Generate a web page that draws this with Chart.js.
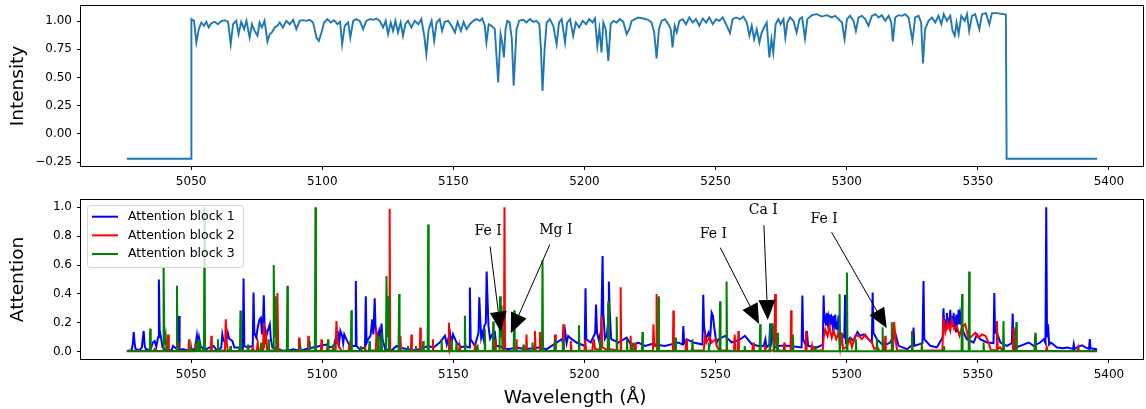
<!DOCTYPE html>
<html>
<head>
<meta charset="utf-8">
<script src="https://cdn.jsdelivr.net/npm/chart.js@4.4.0/dist/chart.umd.min.js"></script>
<style>
  html, body { margin: 0; padding: 0; background: #fff; }
  #wrap { position: relative; width: 1146px; height: 409px; }
  canvas { position: absolute; left: 0; }
  #top { top: 0; }
  #bottom { top: 190px; }
</style>
</head>
<body>
<div id="wrap">
  <canvas id="top" width="1146" height="190"></canvas>
  <canvas id="bottom" width="1146" height="219"></canvas>
</div>
<script>
// tick labels
const xTicks = [5050, 5100, 5150, 5200, 5250, 5300, 5350, 5400];
const yTicksTop = [-0.25, 0, 0.25, 0.5, 0.75, 1.0];
const yTicksBottom = [0, 0.2, 0.4, 0.6, 0.8, 1.0];

// normalised spectrum [wavelength, intensity]
const spectrum = [
  [5025.5,-0.22],[5050.0,-0.22],[5050.1,1.018],[5051.1,1.003],[5052.0,0.811],[5052.9,0.929],[5053.9,0.988],
  [5054.9,0.959],[5055.8,0.994],[5056.7,0.944],[5057.7,0.982],[5059.0,0.994],[5060.2,0.973],[5061.5,1.000],
  [5062.8,1.009],[5064.1,0.994],[5065.1,0.796],[5066.0,0.973],[5067.2,1.003],[5068.1,0.885],[5069.1,0.994],
  [5070.2,0.929],[5071.1,1.003],[5072.3,0.855],[5073.2,0.973],[5074.2,0.914],[5075.3,0.870],[5076.1,0.988],
  [5077.0,0.944],[5078.0,1.003],[5079.1,0.820],[5080.0,0.885],[5080.8,0.900],[5081.9,0.944],[5082.9,0.959],
  [5083.8,0.988],[5085.0,0.944],[5086.3,1.003],[5087.6,0.973],[5088.9,1.012],[5090.1,0.929],[5091.4,1.003],
  [5092.7,1.009],[5093.9,1.003],[5095.2,1.012],[5096.5,0.988],[5097.8,0.855],[5098.7,0.826],[5099.7,0.900],
  [5100.7,0.988],[5102.0,1.018],[5103.2,0.988],[5104.5,1.009],[5105.8,0.973],[5106.8,0.994],[5107.6,0.796],
  [5108.6,0.959],[5109.9,0.988],[5110.7,0.855],[5111.8,1.003],[5113.0,1.018],[5114.3,1.003],[5115.6,0.929],
  [5116.8,1.003],[5118.1,1.018],[5119.4,1.012],[5120.7,1.024],[5121.9,1.003],[5123.2,0.944],[5124.2,1.003],
  [5125.1,0.885],[5126.1,0.988],[5127.0,0.914],[5127.9,1.003],[5128.9,0.900],[5129.9,0.988],[5130.8,0.870],
  [5131.7,0.973],[5132.7,1.003],[5134.0,0.944],[5135.3,1.003],[5136.6,0.973],[5137.8,1.018],[5138.9,0.870],
  [5139.7,0.707],[5140.6,0.929],[5141.7,1.003],[5142.7,0.826],[5143.6,0.988],[5144.8,1.018],[5145.7,0.914],
  [5146.7,0.994],[5148.0,1.003],[5149.3,0.959],[5150.6,0.900],[5151.6,0.994],[5152.9,0.914],[5153.9,0.994],
  [5155.0,0.929],[5156.3,0.973],[5157.6,1.003],[5158.8,1.018],[5160.1,1.003],[5161.0,1.024],[5162.0,0.959],
  [5162.6,0.811],[5163.5,0.973],[5164.5,0.959],[5165.8,0.929],[5167.1,0.456],[5168.0,0.885],[5168.6,0.811],
  [5169.3,0.678],[5169.9,0.929],[5170.6,1.003],[5171.5,0.988],[5172.3,0.840],[5173.0,0.427],[5174.1,0.929],
  [5175.1,1.003],[5176.7,1.012],[5177.9,0.988],[5179.2,1.018],[5180.5,0.994],[5181.7,1.003],[5182.8,0.973],
  [5183.4,0.752],[5184.0,0.382],[5184.8,0.752],[5185.6,0.988],[5186.8,1.018],[5188.1,0.959],[5189.4,0.796],
  [5190.3,0.988],[5191.3,1.018],[5192.6,0.811],[5193.4,0.988],[5194.5,1.018],[5195.7,0.870],[5196.7,0.988],
  [5198.0,0.944],[5199.3,1.003],[5200.6,0.973],[5201.8,1.018],[5203.1,0.988],[5204.0,1.024],[5204.9,0.781],
  [5205.7,0.929],[5206.5,0.722],[5207.2,0.988],[5208.1,0.929],[5209.1,0.648],[5210.0,0.973],[5211.0,1.003],
  [5212.3,0.988],[5213.5,1.018],[5214.8,0.994],[5216.1,0.885],[5217.1,0.929],[5218.0,1.003],[5219.3,1.018],
  [5220.5,1.033],[5222.4,1.024],[5224.3,1.012],[5225.6,0.988],[5226.6,0.900],[5227.5,0.669],[5228.4,0.929],
  [5229.4,1.003],[5230.7,1.018],[5232.0,0.973],[5232.9,0.929],[5233.6,0.767],[5234.4,0.959],[5235.2,0.900],
  [5236.2,1.003],[5237.5,1.018],[5238.7,0.973],[5240.0,1.033],[5241.3,0.988],[5242.5,1.018],[5243.8,0.959],
  [5245.1,1.024],[5246.4,0.988],[5247.6,1.033],[5248.9,0.973],[5250.2,1.018],[5251.4,1.003],[5252.7,1.033],
  [5254.0,0.973],[5255.5,0.894],[5256.5,1.018],[5257.8,1.033],[5259.3,1.018],[5260.6,1.041],[5261.9,0.988],
  [5262.9,0.870],[5263.8,0.959],[5264.7,0.840],[5265.7,0.929],[5266.7,0.811],[5267.6,0.900],[5268.5,0.944],
  [5269.5,0.988],[5270.5,0.678],[5271.3,0.840],[5272.0,0.722],[5272.9,0.973],[5273.9,1.018],[5274.8,0.973],
  [5275.9,1.018],[5276.6,0.855],[5277.4,0.988],[5278.4,1.033],[5279.7,1.003],[5280.9,0.900],[5282.0,1.018],
  [5283.0,1.033],[5284.1,0.846],[5285.0,1.018],[5286.7,1.053],[5288.6,1.062],[5290.5,1.041],[5292.4,1.053],
  [5294.3,1.033],[5295.6,1.047],[5296.9,1.018],[5298.2,0.988],[5299.2,0.840],[5300.1,1.018],[5301.3,1.047],
  [5302.6,1.003],[5303.5,0.914],[5304.5,1.033],[5305.8,1.047],[5307.1,1.018],[5308.3,0.959],[5309.6,1.047],
  [5310.9,1.062],[5312.2,1.033],[5313.4,1.053],[5314.7,1.003],[5316.0,1.047],[5317.0,0.988],[5317.6,0.820],
  [5318.5,1.033],[5319.8,1.053],[5321.1,1.047],[5322.3,1.062],[5323.6,1.033],[5325.1,0.826],[5326.1,1.033],
  [5327.4,1.047],[5328.4,0.988],[5329.1,0.625],[5329.9,0.929],[5331.2,1.003],[5332.5,1.033],[5333.8,0.988],
  [5335.0,1.047],[5336.1,0.973],[5337.0,1.062],[5338.2,1.003],[5339.5,1.047],[5340.4,0.914],[5341.2,0.870],
  [5341.9,0.988],[5342.7,0.885],[5343.7,1.047],[5345.0,1.003],[5345.9,1.062],[5346.7,0.914],[5347.8,1.047],
  [5349.0,1.062],[5350.6,0.929],[5351.6,1.062],[5353.1,1.071],[5354.4,0.973],[5355.4,1.071],[5357.3,1.071],
  [5359.2,1.065],[5360.7,1.059],[5361.0,-0.22],[5395.5,-0.22]
];

// attention of each block [wavelength, attention]
const attention1 = [
  [5025.5,0.005],[5027.3,0.01],[5027.8,0.06],[5028.1,0.137],[5028.5,0.05],[5028.8,0.02],[5030.3,0.01],[5031.2,0.03],
  [5031.9,0.144],[5032.3,0.04],[5032.7,0.02],[5034.2,0.01],[5034.8,0.03],[5035.4,0.064],[5036.1,0.075],[5036.7,0.035],
  [5037.4,0.1],[5037.7,0.50],[5038.0,0.15],[5038.6,0.087],[5039.1,0.03],[5040.5,0.01],[5042.5,0.01],[5043.1,0.04],
  [5043.8,0.03],[5045.2,0.01],[5045.4,0.247],[5045.6,0.01],[5046.8,0.018],[5049.0,0.007],[5051.5,0.02],[5052.2,0.114],
  [5052.6,0.05],[5053.0,0.10],[5053.6,0.04],[5055.0,0.01],[5057.0,0.03],[5058.5,0.04],[5060.0,0.005],[5061.5,0.03],
  [5061.9,0.12],[5062.3,0.08],[5063.2,0.06],[5064.0,0.13],[5064.5,0.09],[5065.7,0.075],[5066.5,0.03],[5067.8,0.03],
  [5069.7,0.02],[5070.0,0.507],[5070.3,0.04],[5071.5,0.03],[5073.5,0.04],[5073.8,0.41],[5074.1,0.13],[5074.8,0.1],
  [5075.5,0.178],[5076.1,0.224],[5076.6,0.235],[5077.0,0.12],[5077.4,0.2],[5077.7,0.39],[5078.0,0.178],[5078.7,0.11],
  [5079.3,0.15],[5080.0,0.19],[5080.4,0.087],[5081.0,0.03],[5083.5,0.018],[5085.0,0.007],[5087.5,0.01],[5089.0,0.018],
  [5091.5,0.005],[5093.5,0.018],[5096.5,0.03],[5099.0,0.04],[5101.6,0.05],[5103.0,0.03],[5104.5,0.04],[5105.3,0.11],
  [5106.0,0.13],[5106.5,0.07],[5106.9,0.144],[5107.6,0.11],[5108.0,0.06],[5108.4,0.12],[5109.2,0.087],[5110.5,0.04],
  [5112.5,0.04],[5112.8,0.49],[5113.1,0.04],[5114.2,0.018],[5116.3,0.03],[5116.6,0.384],[5116.9,0.06],[5117.5,0.087],
  [5118.4,0.11],[5119.1,0.224],[5119.5,0.12],[5120.0,0.37],[5120.3,0.178],[5121.0,0.09],[5121.7,0.144],[5122.2,0.08],
  [5122.6,0.196],[5123.0,0.087],[5124.0,0.018],[5126.5,0.01],[5128.3,0.04],[5129.5,0.03],[5132.5,0.018],[5135.0,0.01],
  [5137.5,0.02],[5140.3,0.04],[5142.5,0.03],[5144.8,0.064],[5146.8,0.11],[5147.5,0.05],[5148.7,0.132],[5149.3,0.06],
  [5149.9,0.12],[5151.2,0.064],[5153.1,0.03],[5154.4,0.04],[5156.0,0.03],[5156.3,0.445],[5156.6,0.087],[5158.2,0.04],
  [5159.6,0.132],[5159.9,0.377],[5160.2,0.247],[5160.6,0.1],[5161.0,0.132],[5161.5,0.09],[5161.8,0.178],[5162.4,0.2],
  [5162.7,0.555],[5163.0,0.384],[5163.4,0.178],[5164.0,0.09],[5165.2,0.132],[5165.5,0.06],[5165.8,0.144],[5166.3,0.04],
  [5167.1,0.04],[5170.9,0.018],[5174.1,0.03],[5177.4,0.018],[5182.4,0.03],[5185.6,0.018],[5191.3,0.087],[5192.0,0.05],
  [5192.6,0.144],[5193.2,0.06],[5193.8,0.11],[5195.1,0.087],[5197.0,0.064],[5200.1,0.04],[5200.4,0.44],[5200.7,0.087],
  [5202.4,0.064],[5204.1,0.13],[5204.4,0.326],[5204.8,0.132],[5205.5,0.08],[5206.4,0.15],[5206.9,0.662],[5207.2,0.27],
  [5207.8,0.09],[5208.5,0.11],[5209.0,0.2],[5209.3,0.486],[5209.6,0.29],[5210.2,0.087],[5212.9,0.064],[5216.1,0.098],
  [5218.0,0.04],[5220.5,0.064],[5223.1,0.04],[5225.6,0.053],[5230.7,0.04],[5235.8,0.064],[5237.4,0.05],[5237.7,0.178],
  [5238.0,0.06],[5239.0,0.087],[5241.5,0.064],[5245.0,0.05],[5245.3,0.395],[5245.6,0.178],[5246.3,0.09],[5247.3,0.132],
  [5247.9,0.08],[5248.5,0.27],[5249.0,0.247],[5249.6,0.155],[5250.3,0.06],[5251.1,0.087],[5253.6,0.11],[5256.2,0.064],
  [5259.4,0.087],[5261.2,0.11],[5263.8,0.053],[5266.3,0.04],[5268.3,0.04],[5269.0,0.087],[5269.4,0.03],[5270.5,0.05],
  [5270.8,0.196],[5271.1,0.05],[5272.1,0.132],[5272.4,0.03],[5274.6,0.041],[5277.8,0.041],[5282.8,0.03],[5283.1,0.39],
  [5283.4,0.087],[5284.3,0.05],[5284.8,0.144],[5285.3,0.041],[5288.6,0.03],[5290.9,0.05],[5291.2,0.39],[5291.5,0.2],
  [5291.8,0.258],[5292.1,0.18],[5292.4,0.269],[5292.8,0.2],[5293.1,0.235],[5293.4,0.17],[5293.7,0.258],[5294.0,0.19],
  [5294.3,0.224],[5294.7,0.17],[5295.0,0.247],[5295.3,0.2],[5295.6,0.258],[5296.0,0.16],[5296.2,0.212],[5296.6,0.17],
  [5296.9,0.252],[5297.5,0.132],[5299.1,0.1],[5299.4,0.395],[5299.7,0.064],[5301.3,0.098],[5302.6,0.075],[5304.1,0.137],
  [5305.1,0.11],[5306.4,0.12],[5307.7,0.098],[5309.6,0.064],[5309.9,0.41],[5310.2,0.132],[5311.5,0.087],[5314.1,0.041],
  [5316.6,0.064],[5318.5,0.132],[5319.8,0.041],[5323.0,0.018],[5325.2,0.05],[5325.5,0.167],[5325.8,0.041],[5328.9,0.06],
  [5329.3,0.49],[5329.6,0.087],[5331.9,0.041],[5334.4,0.03],[5336.6,0.1],[5336.9,0.30],[5337.3,0.15],[5337.6,0.224],
  [5337.9,0.16],[5338.2,0.269],[5338.5,0.18],[5338.8,0.235],[5339.1,0.17],[5339.5,0.29],[5339.8,0.19],[5340.1,0.247],
  [5340.4,0.17],[5340.8,0.269],[5341.1,0.16],[5341.4,0.201],[5341.7,0.14],[5342.0,0.258],[5342.4,0.19],[5342.7,0.29],
  [5343.0,0.19],[5343.3,0.258],[5343.9,0.178],[5344.6,0.132],[5345.8,0.087],[5348.4,0.064],[5349.7,0.12],[5350.9,0.087],
  [5353.5,0.064],[5356.0,0.06],[5356.3,0.406],[5356.6,0.132],[5357.3,0.132],[5358.6,0.064],[5361.1,0.041],[5363.0,0.06],
  [5363.3,0.265],[5363.6,0.08],[5364.3,0.132],[5364.6,0.03],[5366.2,0.041],[5369.4,0.064],[5371.3,0.041],[5373.8,0.064],
  [5375.1,0.087],[5375.8,0.06],[5376.1,1.0],[5376.4,0.1],[5376.8,0.19],[5377.2,0.05],[5377.9,0.064],[5380.2,0.03],
  [5382.7,0.024],[5384.0,0.03],[5386.3,0.02],[5386.6,0.053],[5386.9,0.02],[5387.8,0.03],[5389.7,0.045],[5391.0,0.03],
  [5392.4,0.02],[5392.7,0.087],[5393.0,0.024],[5395.5,0.018]
];

const attention2 = [
  [5025.5,0.005],[5035.5,0.005],[5036.1,0.018],[5036.6,0.005],[5040.9,0.005],[5041.2,0.12],[5041.5,0.005],
  [5044.8,0.005],[5045.0,0.064],[5045.2,0.005],[5049.0,0.005],[5049.2,0.087],[5049.4,0.005],[5051.5,0.005],
  [5051.7,0.06],[5051.9,0.005],[5057.5,0.005],[5057.7,0.11],[5057.9,0.005],[5062.9,0.01],[5063.2,0.224],
  [5063.6,0.064],[5064.0,0.005],[5068.0,0.005],[5068.5,0.03],[5069.0,0.005],[5073.0,0.005],[5073.5,0.03],
  [5074.0,0.005],[5075.0,0.005],[5075.4,0.064],[5075.8,0.01],[5077.4,0.01],[5077.7,0.20],[5078.1,0.064],
  [5078.6,0.11],[5079.0,0.01],[5082.6,0.005],[5082.9,0.406],[5083.2,0.02],[5084.5,0.005],[5091.0,0.005],
  [5091.2,0.098],[5091.4,0.005],[5094.5,0.005],[5094.7,0.11],[5094.9,0.005],[5099.5,0.005],[5099.7,0.087],
  [5099.9,0.005],[5101.8,0.005],[5102.0,0.05],[5102.2,0.005],[5105.1,0.01],[5105.4,0.212],[5105.8,0.064],
  [5106.5,0.03],[5107.5,0.005],[5110.0,0.005],[5110.3,0.04],[5110.6,0.005],[5116.0,0.005],[5116.3,0.04],
  [5116.6,0.005],[5120.4,0.01],[5120.7,0.132],[5121.2,0.087],[5121.6,0.005],[5125.5,0.005],[5125.7,0.99],
  [5125.9,0.005],[5129.5,0.005],[5129.8,0.11],[5130.1,0.005],[5133.8,0.005],[5134.0,0.12],[5134.2,0.005],
  [5137.2,0.005],[5137.4,0.167],[5137.6,0.005],[5142.0,0.005],[5142.2,0.087],[5142.4,0.005],[5148.0,0.005],
  [5148.3,0.20],[5148.6,0.02],[5149.2,0.064],[5149.6,0.005],[5152.1,0.005],[5152.4,0.041],[5152.7,0.005],
  [5158.0,0.005],[5158.3,0.04],[5158.6,0.005],[5165.8,0.005],[5166.0,0.087],[5166.2,0.005],[5169.3,0.005],
  [5169.5,1.0],[5169.7,0.005],[5173.9,0.005],[5174.1,0.087],[5174.3,0.005],[5177.7,0.005],[5177.9,0.12],
  [5178.1,0.005],[5180.9,0.005],[5181.1,0.144],[5181.4,0.005],[5182.8,0.005],[5183.0,0.137],[5183.2,0.005],
  [5188.5,0.005],[5188.8,0.12],[5189.1,0.005],[5191.7,0.005],[5191.9,0.19],[5192.1,0.005],[5194.5,0.005],
  [5194.8,0.075],[5195.1,0.005],[5200.0,0.005],[5200.3,0.087],[5200.6,0.005],[5203.0,0.01],[5203.3,0.064],
  [5203.6,0.087],[5204.0,0.02],[5206.2,0.01],[5206.5,0.247],[5206.8,0.03],[5208.9,0.01],[5209.1,0.33],
  [5209.4,0.02],[5213.6,0.005],[5213.8,0.447],[5214.0,0.005],[5217.4,0.005],[5217.6,0.11],[5217.8,0.005],
  [5219.0,0.005],[5219.3,0.064],[5219.6,0.005],[5226.1,0.005],[5226.3,0.19],[5226.6,0.04],[5227.3,0.04],
  [5227.5,0.40],[5227.7,0.005],[5233.7,0.005],[5233.9,0.285],[5234.1,0.005],[5238.5,0.005],[5238.8,0.087],
  [5239.1,0.005],[5245.5,0.01],[5246.0,0.11],[5246.5,0.064],[5247.2,0.087],[5247.8,0.1],[5248.5,0.064],
  [5249.2,0.075],[5250.0,0.087],[5250.6,0.03],[5251.5,0.01],[5257.0,0.005],[5257.3,0.12],[5257.6,0.005],
  [5258.5,0.005],[5258.7,0.144],[5258.9,0.005],[5264.0,0.005],[5264.3,0.064],[5264.6,0.005],[5268.5,0.005],
  [5268.8,0.05],[5269.1,0.005],[5272.4,0.01],[5272.7,0.40],[5273.0,0.132],[5273.4,0.01],[5276.0,0.005],
  [5276.2,0.064],[5276.4,0.005],[5278.6,0.005],[5278.8,0.288],[5279.0,0.005],[5284.3,0.005],[5284.5,0.144],
  [5284.7,0.005],[5286.5,0.005],[5286.8,0.04],[5287.1,0.005],[5290.9,0.01],[5291.2,0.098],[5291.8,0.155],
  [5292.7,0.11],[5293.4,0.178],[5294.3,0.098],[5295.0,0.144],[5296.0,0.087],[5296.9,0.132],[5297.5,0.03],
  [5298.1,0.132],[5298.6,0.02],[5299.8,0.03],[5301.3,0.087],[5302.0,0.03],[5303.2,0.11],[5304.5,0.11],
  [5305.8,0.087],[5307.0,0.12],[5308.3,0.087],[5309.6,0.064],[5310.5,0.02],[5311.8,0.03],[5312.5,0.005],
  [5314.5,0.005],[5314.7,0.11],[5314.9,0.005],[5317.6,0.01],[5318.1,0.205],[5318.6,0.087],[5319.2,0.01],
  [5324.7,0.005],[5324.9,0.144],[5325.1,0.005],[5336.5,0.01],[5336.9,0.235],[5337.6,0.132],[5338.5,0.201],
  [5339.5,0.144],[5340.1,0.224],[5341.0,0.155],[5342.0,0.178],[5343.0,0.11],[5343.9,0.167],[5345.2,0.19],
  [5346.5,0.087],[5347.8,0.11],[5349.0,0.132],[5350.3,0.098],[5351.6,0.12],[5352.9,0.11],[5354.1,0.064],
  [5355.0,0.01],[5357.0,0.01],[5357.3,0.212],[5357.6,0.02],[5358.5,0.03],[5359.5,0.005],[5363.4,0.005],
  [5363.7,0.167],[5364.0,0.005],[5371.7,0.005],[5371.9,0.11],[5372.1,0.005],[5376.0,0.005],[5376.3,0.03],
  [5376.6,0.005],[5388.0,0.005],[5388.3,0.03],[5388.6,0.005],[5395.5,0.005]
];

const attention3 = [
  [5025.5,0.003],[5034.2,0.003],[5034.4,0.16],[5034.6,0.003],[5039.3,0.003],[5039.5,0.589],[5039.8,0.05],
  [5040.3,0.11],[5040.6,0.003],[5044.4,0.003],[5044.6,0.457],[5044.8,0.003],[5049.8,0.003],[5050.0,0.03],
  [5050.2,0.003],[5052.2,0.003],[5052.5,0.087],[5052.9,0.003],[5053.2,0.075],[5053.5,0.003],[5054.9,0.003],
  [5055.1,1.0],[5055.3,0.003],[5060.0,0.003],[5060.2,0.087],[5060.4,0.003],[5064.8,0.003],[5065.0,0.04],
  [5065.2,0.003],[5068.6,0.003],[5068.8,0.285],[5069.0,0.003],[5071.5,0.003],[5071.7,0.05],[5071.9,0.003],
  [5076.5,0.003],[5076.7,0.064],[5076.9,0.003],[5079.4,0.003],[5079.6,0.087],[5079.8,0.003],[5081.3,0.003],
  [5081.5,0.60],[5081.8,0.1],[5082.2,0.384],[5082.5,0.003],[5086.5,0.003],[5086.7,0.457],[5086.9,0.003],
  [5091.5,0.003],[5091.7,0.03],[5091.9,0.003],[5095.0,0.003],[5095.2,0.075],[5095.4,0.003],[5097.2,0.003],
  [5097.4,1.0],[5097.6,0.003],[5102.0,0.003],[5102.2,0.087],[5102.4,0.003],[5104.0,0.003],[5104.2,0.05],
  [5104.4,0.003],[5110.9,0.003],[5111.1,0.288],[5111.3,0.003],[5114.5,0.003],[5114.7,0.04],[5114.9,0.003],
  [5117.8,0.003],[5118.0,0.075],[5118.2,0.003],[5121.1,0.003],[5121.3,0.11],[5121.5,0.003],[5122.4,0.003],
  [5122.6,0.132],[5122.8,0.003],[5124.3,0.003],[5124.5,0.525],[5124.8,0.1],[5125.1,0.384],[5125.4,0.003],
  [5129.1,0.003],[5129.3,0.40],[5129.5,0.003],[5132.5,0.003],[5132.7,0.04],[5132.9,0.003],[5135.5,0.003],
  [5135.7,0.04],[5135.9,0.003],[5138.3,0.003],[5138.5,0.075],[5138.7,0.003],[5140.2,0.003],[5140.4,0.88],
  [5140.6,0.003],[5145.3,0.003],[5145.5,0.087],[5145.7,0.003],[5149.1,0.003],[5149.3,0.087],[5149.5,0.003],
  [5151.0,0.003],[5151.2,0.064],[5151.4,0.003],[5154.2,0.003],[5154.4,0.25],[5154.6,0.003],[5159.0,0.003],
  [5159.2,0.05],[5159.4,0.003],[5161.8,0.003],[5162.0,0.155],[5162.2,0.003],[5165.0,0.003],[5165.2,0.21],
  [5165.4,0.003],[5167.6,0.003],[5167.8,0.384],[5168.1,0.1],[5168.4,0.32],[5168.7,0.003],[5173.0,0.003],
  [5173.2,0.288],[5173.4,0.003],[5176.5,0.003],[5176.7,0.05],[5176.9,0.003],[5180.0,0.003],[5180.2,0.064],
  [5180.4,0.003],[5183.8,0.003],[5184.0,0.635],[5184.2,0.003],[5188.6,0.003],[5188.8,0.087],[5189.0,0.003],
  [5191.8,0.003],[5192.0,0.087],[5192.2,0.003],[5197.7,0.003],[5197.9,0.183],[5198.1,0.003],[5205.8,0.003],
  [5206.0,0.087],[5206.2,0.003],[5208.9,0.003],[5209.1,0.35],[5209.3,0.003],[5212.1,0.003],[5212.3,0.242],
  [5212.5,0.003],[5216.0,0.003],[5216.2,0.087],[5216.4,0.003],[5218.0,0.003],[5218.2,0.064],[5218.4,0.003],
  [5221.9,0.003],[5222.1,0.137],[5222.3,0.003],[5228.0,0.003],[5228.2,0.384],[5228.4,0.003],[5234.5,0.003],
  [5234.7,0.098],[5234.9,0.003],[5241.0,0.003],[5241.2,0.087],[5241.4,0.003],[5247.2,0.003],[5247.4,0.064],
  [5247.6,0.003],[5251.5,0.003],[5251.7,0.35],[5251.9,0.003],[5254.0,0.003],[5254.2,0.486],[5254.4,0.003],
  [5260.9,0.003],[5261.1,0.04],[5261.3,0.003],[5266.8,0.003],[5267.0,0.19],[5267.2,0.003],[5270.6,0.003],
  [5270.8,0.178],[5271.3,0.19],[5271.8,0.19],[5272.2,0.003],[5273.4,0.003],[5273.6,0.132],[5273.8,0.003],
  [5279.3,0.003],[5279.5,0.12],[5279.7,0.003],[5287.8,0.003],[5288.0,0.04],[5288.2,0.003],[5297.1,0.003],
  [5297.3,0.40],[5297.5,0.003],[5299.9,0.003],[5300.1,0.548],[5300.3,0.003],[5303.3,0.003],[5303.5,0.087],
  [5303.7,0.003],[5311.3,0.003],[5311.5,0.09],[5311.7,0.003],[5313.5,0.003],[5313.7,0.17],[5313.9,0.003],
  [5317.0,0.003],[5317.2,0.205],[5317.4,0.003],[5324.7,0.003],[5324.9,0.132],[5325.1,0.003],[5328.4,0.003],
  [5328.6,0.064],[5328.8,0.003],[5336.9,0.003],[5337.1,0.04],[5337.3,0.003],[5343.8,0.003],[5344.0,0.40],
  [5344.2,0.003],[5346.5,0.003],[5346.7,0.555],[5346.9,0.003],[5352.0,0.003],[5352.2,0.064],[5352.4,0.003],
  [5359.6,0.003],[5359.8,0.212],[5360.0,0.003],[5364.5,0.003],[5364.7,0.205],[5364.9,0.003],[5371.7,0.003],
  [5371.9,0.132],[5372.1,0.003],[5395.5,0.003]
];

const blockNames = ['Attention block 1', 'Attention block 2', 'Attention block 3'];

// line identifications: label, where the text sits, where the arrow points
const lineLabels = ['Fe I', 'Mg I', 'Fe I', 'Ca I', 'Fe I'];
const lineTextAt = [[5163.3, 0.831], [5189.1, 0.838], [5249.2, 0.813], [5268.2, 0.979], [5291.4, 0.917]];
const linePointAt = [[5168.1, 0.139], [5171.9, 0.128], [5266.6, 0.192], [5269.9, 0.22], [5315.3, 0.162]];

Chart.defaults.font.family = 'DejaVu Sans';
Chart.defaults.font.size = 12;
Chart.defaults.color = '#000';
Chart.defaults.animation = false;

function xAxis(height) {
  return {
    type: 'linear', min: 5008, max: 5413,
    afterBuildTicks: s => { s.ticks = xTicks.map(v => ({ value: v })); },
    afterFit: s => { s.height = height; s.paddingLeft = 0; s.paddingRight = 0; },
    grid: { drawOnChartArea: false, tickLength: 4, tickColor: '#000' },
    border: { display: false },
    ticks: { padding: 5, maxRotation: 0, autoSkip: false, callback: v => String(v) }
  };
}

function yAxis(min, max, tickVals, digits, label) {
  return {
    min: min, max: max,
    afterBuildTicks: s => { s.ticks = tickVals.map(v => ({ value: v })); },
    afterFit: s => { s.width = 81; s.paddingTop = 0; s.paddingBottom = 0; },
    grid: { drawOnChartArea: false, tickLength: 4, tickColor: '#000' },
    border: { display: false },
    ticks: {
      padding: 5, autoSkip: false,
      callback: v => (v < 0 ? '\u2212' : '') + Math.abs(v).toFixed(digits)
    },
    title: { display: true, text: label, font: { size: 18.5 }, color: '#000', padding: { top: 7, bottom: 0 } }
  };
}

const frame = {
  id: 'frame',
  afterDraw(chart) {
    const { ctx, chartArea: a } = chart;
    ctx.save();
    ctx.strokeStyle = '#000';
    ctx.lineWidth = 1;
    ctx.strokeRect(a.left - 0.5, a.top - 0.5, a.right - a.left + 1, a.bottom - a.top + 1);
    ctx.restore();
  }
};

const blockLegend = {
  id: 'blockLegend',
  afterDatasetsDraw(chart) {
    const { ctx, chartArea: a } = chart;
    const x = a.left + 6, y = a.top + 5, w = 156, h = 62;
    ctx.save();
    ctx.beginPath();
    ctx.roundRect(x + 0.5, y + 0.5, w, h, 3);
    ctx.fillStyle = 'rgba(255,255,255,0.8)';
    ctx.fill();
    ctx.strokeStyle = 'rgba(204,204,204,0.8)';
    ctx.lineWidth = 1;
    ctx.stroke();
    ctx.font = '12.5px "DejaVu Sans"';
    ctx.textBaseline = 'middle';
    chart.data.datasets.forEach((ds, i) => {
      const cy = y + 11.7 + i * 18.65;
      ctx.strokeStyle = ds.borderColor;
      ctx.lineWidth = 2;
      ctx.beginPath();
      ctx.moveTo(x + 5, cy);
      ctx.lineTo(x + 31, cy);
      ctx.stroke();
      ctx.fillStyle = '#000';
      ctx.fillText(ds.label, x + 41, cy);
    });
    ctx.restore();
  }
};

const arrows = {
  id: 'arrows',
  afterDraw(chart) {
    const { ctx } = chart;
    const xs = chart.scales.x, ys = chart.scales.y;
    ctx.save();
    ctx.font = '14px "DejaVu Serif"';
    ctx.textAlign = 'center';
    ctx.textBaseline = 'middle';
    ctx.fillStyle = '#000';
    ctx.strokeStyle = '#000';
    lineLabels.forEach((lab, i) => {
      const tx = xs.getPixelForValue(lineTextAt[i][0]), ty = ys.getPixelForValue(lineTextAt[i][1]);
      const px = xs.getPixelForValue(linePointAt[i][0]), py = ys.getPixelForValue(linePointAt[i][1]);
      ctx.fillText(lab, tx, ty);
      const dx = px - tx, dy = py - ty, len = Math.hypot(dx, dy);
      const ux = dx / len, uy = dy / len;
      const sx = tx + ux * 15, sy = ty + uy * 15;
      const headLen = 20, headHalf = 8.5;
      const bx = px - ux * headLen, by = py - uy * headLen;
      ctx.lineWidth = 1;
      ctx.beginPath();
      ctx.moveTo(sx, sy);
      ctx.lineTo(bx, by);
      ctx.stroke();
      ctx.beginPath();
      ctx.moveTo(px, py);
      ctx.lineTo(bx - uy * headHalf, by + ux * headHalf);
      ctx.lineTo(bx + uy * headHalf, by - ux * headHalf);
      ctx.closePath();
      ctx.fill();
    });
    ctx.restore();
  }
};

const xLabel = {
  id: 'xLabel',
  afterDraw(chart) {
    const { ctx } = chart;
    ctx.save();
    ctx.font = '18.5px "DejaVu Sans"';
    ctx.textAlign = 'center';
    ctx.textBaseline = 'middle';
    ctx.fillStyle = '#000';
    ctx.fillText('Wavelength (\u00c5)', 575, chart.height - 11);
    ctx.restore();
  }
};

new Chart(document.getElementById('top'), {
  type: 'line',
  data: {
    datasets: [{
      data: spectrum, borderColor: '#1f77b4', borderWidth: 1.9,
      pointRadius: 0, tension: 0
    }]
  },
  options: {
    responsive: false,
    devicePixelRatio: 1,
    layout: { padding: { left: 0, right: 3, top: 6, bottom: 0 } },
    plugins: { legend: { display: false }, tooltip: { enabled: false } },
    scales: {
      x: xAxis(24),
      y: yAxis(-0.2845, 1.1345, yTicksTop, 2, 'Intensity')
    }
  },
  plugins: [frame]
});

new Chart(document.getElementById('bottom'), {
  type: 'line',
  data: {
    datasets: [
      { label: blockNames[0], data: attention1, borderColor: 'blue', borderWidth: 2, pointRadius: 0, order: 2 },
      { label: blockNames[1], data: attention2, borderColor: 'red', borderWidth: 2, pointRadius: 0, order: 1 },
      { label: blockNames[2], data: attention3, borderColor: 'green', borderWidth: 2, pointRadius: 0, order: 0 }
    ]
  },
  options: {
    responsive: false,
    devicePixelRatio: 1,
    layout: { padding: { left: 0, right: 3, top: 10, bottom: 0 } },
    plugins: { legend: { display: false }, tooltip: { enabled: false } },
    scales: {
      x: xAxis(50),
      y: yAxis(-0.05, 1.05, yTicksBottom, 1, 'Attention')
    }
  },
  plugins: [frame, blockLegend, arrows, xLabel]
});
</script>
</body>
</html>
